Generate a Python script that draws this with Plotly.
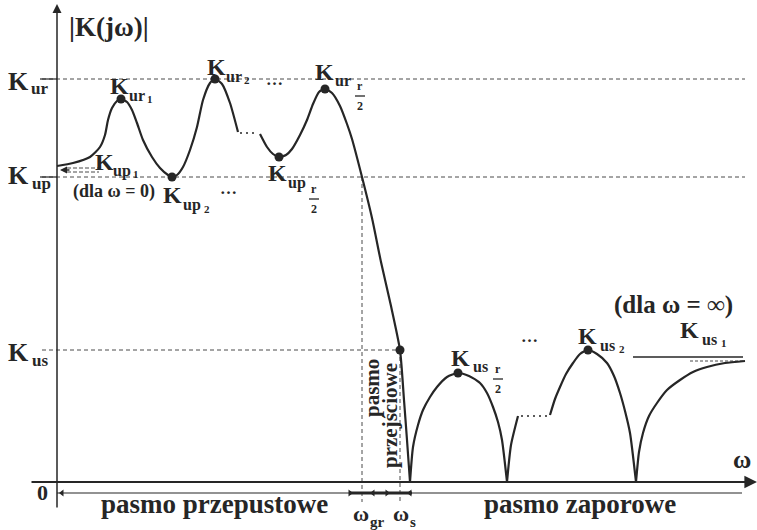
import plotly.graph_objects as go

# ---------------- data (arbitrary units: omega, |K|) ----------------
K_ur = 4.03
K_up = 3.05
K_us = 1.32
K_us1 = 1.25
w_gr = 3.05
w_s = 3.43

# pass band, first part (up to the "..." gap)
pass1_w = [0.00, 0.16, 0.33, 0.43, 0.48, 0.51, 0.55, 0.60, 0.64, 0.70, 0.75, 0.80, 0.86, 0.95, 1.03, 1.11, 1.15,
           1.20, 1.26, 1.33, 1.40, 1.46, 1.53, 1.58, 1.65, 1.73, 1.81]
pass1_k = [3.16, 3.19, 3.25, 3.35, 3.47, 3.62, 3.74, 3.81, 3.83, 3.80, 3.72, 3.59, 3.42, 3.25, 3.14, 3.07, 3.05,
           3.07, 3.15, 3.32, 3.55, 3.82, 3.99, 4.03, 3.98, 3.79, 3.50]
# pass band, second part + transition band
pass2_w = [2.03, 2.10, 2.16, 2.22, 2.29, 2.35, 2.43, 2.50, 2.56, 2.62, 2.68, 2.75, 2.83, 2.90, 2.95, 3.05, 3.15,
           3.24, 3.34, 3.43, 3.47, 3.50, 3.53]
pass2_k = [3.48, 3.35, 3.28, 3.25, 3.27, 3.33, 3.47, 3.62, 3.78, 3.90, 3.93, 3.89, 3.76, 3.58, 3.43, 3.05, 2.64,
           2.20, 1.76, 1.32, 0.82, 0.42, 0.00]
# stop band lobes
lobe1_w = [3.53, 3.56, 3.61, 3.66, 3.73, 3.80, 3.90, 4.01, 4.12, 4.23, 4.30, 4.36, 4.41, 4.45, 4.50]
lobe1_k = [0.00, 0.35, 0.57, 0.72, 0.85, 0.95, 1.05, 1.09, 1.06, 0.99, 0.89, 0.75, 0.60, 0.42, 0.00]
rise_w = [4.50, 4.54, 4.61]
rise_k = [0.00, 0.37, 0.66]
lobe2_w = [4.93, 4.98, 5.03, 5.09, 5.16, 5.23, 5.31, 5.40, 5.50, 5.57, 5.63, 5.68, 5.73, 5.79]
lobe2_k = [0.67, 0.83, 0.95, 1.08, 1.19, 1.28, 1.32, 1.28, 1.19, 1.06, 0.89, 0.71, 0.49, 0.00]
tail_w = [5.79, 5.82, 5.86, 5.92, 6.00, 6.10, 6.23, 6.36, 6.50, 6.68, 6.88]
tail_k = [0.00, 0.30, 0.49, 0.66, 0.79, 0.92, 1.02, 1.10, 1.15, 1.19, 1.21]

# marked extremum points
pts_w = [0.64, 1.15, 1.58, 2.22, 2.68, 3.43, 4.01, 5.31]
pts_k = [3.83, 3.05, 4.03, 3.25, 3.93, 1.32, 1.09, 1.32]

# gaps drawn as dots
gap1_w = [1.83, 2.01]
gap1_k = [3.49, 3.49]
gap2_w = [4.64, 4.91]
gap2_k = [0.66, 0.66]

# band-marker arrowheads on the dimension line
band_left_w = [0.05, 3.16, 3.53]
band_right_w = [2.93, 3.30]

# ---------------- figure ----------------
W, H = 757, 530
X0, Y0 = 57, 482      # pixel of origin
S = 100.0             # pixels per unit
XR = [-X0 / S, (W - X0) / S]
YR = [-(H - Y0) / S, Y0 / S]

INK = '#262626'
DASH = '#4a4a4a'
FONT = 'Liberation Serif'


def px(x, y):
    return (x - X0) / S, (Y0 - y) / S


fig = go.Figure()


def line(xs, ys, width=2.2, color=INK, dash=None, shape='spline', smooth=1.0):
    fig.add_trace(go.Scatter(
        x=xs, y=ys, mode='lines', hoverinfo='skip', showlegend=False,
        line=dict(color=color, width=width, dash=dash, shape=shape,
                  smoothing=smooth if shape == 'spline' else None)))


# reference dashed lines
line([-0.15, 6.88], [K_ur, K_ur], 1, DASH, '4px,3px', 'linear')
line([-0.15, 6.88], [K_up, K_up], 1, DASH, '4px,3px', 'linear')
line([-0.15, w_s], [K_us, K_us], 1, DASH, '4px,3px', 'linear')
line([w_gr, w_gr], [K_up, -0.20], 1, DASH, '4px,3px', 'linear')
line([w_s, w_s], [K_us, -0.20], 1, DASH, '4px,3px', 'linear')
line([-0.17, 0.0], [K_ur, K_ur], 1.2, INK, None, 'linear')
line([-0.17, 0.0], [K_up, K_up], 1.2, INK, None, 'linear')

# K_us1 asymptote lines
line([5.76, 6.86], [K_us1, K_us1], 1.5, INK, None, 'linear')
line([6.33, 6.86], [1.21, 1.21], 1, DASH, '3px,2px', 'linear')

# K_up1 pointer (double dashed shaft)
line([0.10, 0.42], [3.10, 3.10], 1, DASH, '4px,2px', 'linear')
line([0.10, 0.42], [3.14, 3.14], 1, DASH, '4px,2px', 'linear')

# characteristic
line(pass1_w, pass1_k, smooth=0.6)
line(pass2_w, pass2_k, smooth=0.6)
line(lobe1_w, lobe1_k, smooth=0.6)
line(rise_w, rise_k, smooth=0.6)
line(lobe2_w, lobe2_k, smooth=0.6)
line(tail_w, tail_k, smooth=0.6)
line(gap1_w, gap1_k, 1.6, INK, '2px,4px', 'linear')
line(gap2_w, gap2_k, 1.6, INK, '2px,4px', 'linear')

# marker dots
fig.add_trace(go.Scatter(x=pts_w, y=pts_k, mode='markers', hoverinfo='skip', showlegend=False,
                         marker=dict(size=9, color=INK)))

# band dimension line
line([0.0, 6.85], [-0.11, -0.11], 1.2, INK, None, 'linear')
line([2.93, 3.55], [-0.11, -0.11], 3, INK, None, 'linear')
fig.add_trace(go.Scatter(x=band_left_w, y=[-0.11] * len(band_left_w), mode='markers', hoverinfo='skip',
                         showlegend=False, marker=dict(symbol='triangle-left', size=6, color=INK)))
fig.add_trace(go.Scatter(x=band_right_w, y=[-0.11] * len(band_right_w), mode='markers', hoverinfo='skip',
                         showlegend=False, marker=dict(symbol='triangle-right', size=6, color=INK)))

annotations = []

# axes as arrows
annotations.append(dict(x=7.0, y=0.0, ax=-0.27, ay=0.0, xref='x', yref='y', axref='x', ayref='y',
                        showarrow=True, arrowhead=2, arrowsize=1.4, arrowwidth=1.8, arrowcolor=INK, text=''))
annotations.append(dict(x=0.0, y=4.78, ax=0.0, ay=-0.27, xref='x', yref='y', axref='x', ayref='y',
                        showarrow=True, arrowhead=2, arrowsize=1.2, arrowwidth=1.5, arrowcolor=INK, text=''))
# K_up1 arrow head (dla omega = 0)
annotations.append(dict(x=0.03, y=3.12, ax=0.14, ay=3.12, xref='x', yref='y', axref='x', ayref='y',
                        showarrow=True, arrowhead=2, arrowsize=1.0, arrowwidth=1.4, arrowcolor=INK, text=''))


def lab(x, y, text, size=22, xanchor='center', angle=0):
    dx, dy = px(x, y)
    annotations.append(dict(x=dx, y=dy, xref='x', yref='y', text=text, showarrow=False,
                            xanchor=xanchor, yanchor='middle', textangle=angle,
                            font=dict(family=FONT, size=size, color=INK)))


def frac(x, y_top, y_bot, size=12):
    lab(x, y_top, '<b>r</b>', size)
    lab(x, y_bot, '<b>2</b>', size)
    bx0, by = px(x - 5, (y_top + y_bot) / 2)
    bx1, _ = px(x + 5, 0)
    fig.add_shape(type='line', x0=bx0, x1=bx1, y0=by, y1=by, xref='x', yref='y',
                  line=dict(color=INK, width=1.3))


# axis labels
lab(109, 27, '<b>|K(jω)|</b>', 27)
lab(742, 459, '<b>ω</b>', 25)
lab(42, 492, '<b>0</b>', 22)

# left level labels
lab(18, 81, '<b>K</b>', 26)
lab(39, 88, '<b>ur</b>', 17)
lab(18, 175, '<b>K</b>', 26)
lab(41, 183, '<b>up</b>', 17)
lab(18, 352, '<b>K</b>', 26)
lab(40, 360, '<b>us</b>', 17)

# K_ur1
lab(119, 86, '<b>K</b>', 24)
lab(137, 95, '<b>ur</b>', 16)
lab(150, 99, '<b>1</b>', 11)
# K_ur2
lab(216, 67, '<b>K</b>', 24)
lab(234, 76, '<b>ur</b>', 16)
lab(247, 80, '<b>2</b>', 11)
lab(274, 79, '<b>…</b>', 17)
# K_ur r/2
lab(324, 72, '<b>K</b>', 24)
lab(343, 80, '<b>ur</b>', 16)
frac(360, 86, 106)
# K_up1
lab(104, 162, '<b>K</b>', 24)
lab(122, 171, '<b>up</b>', 16)
lab(136, 174, '<b>1</b>', 11)
lab(114, 191, '<b>(dla ω = 0)</b>', 18)
# K_up2
lab(172, 195, '<b>K</b>', 24)
lab(192, 205, '<b>up</b>', 16)
lab(207, 209, '<b>2</b>', 11)
lab(228, 188, '<b>…</b>', 17)
# K_up r/2
lab(277, 173, '<b>K</b>', 24)
lab(297, 183, '<b>up</b>', 16)
frac(314, 189, 209)
# K_us r/2
lab(460, 358, '<b>K</b>', 24)
lab(480, 366, '<b>us</b>', 16)
frac(498, 369, 389)
# K_us2
lab(587, 336, '<b>K</b>', 24)
lab(607, 345, '<b>us</b>', 16)
lab(622, 349, '<b>2</b>', 11)
lab(529, 336, '<b>…</b>', 17)
# K_us1
lab(689, 330, '<b>K</b>', 24)
lab(709, 339, '<b>us</b>', 16)
lab(724, 343, '<b>1</b>', 11)
lab(673, 305, '<b>(dla ω = ∞)</b>', 25)

# bands
lab(214, 504, '<b>pasmo przepustowe</b>', 27)
lab(580, 504, '<b>pasmo zaporowe</b>', 27)
lab(372, 388, '<b>pasmo</b>', 21, angle=-90)
lab(390, 416, '<b>przejściowe</b>', 21, angle=-90)
lab(361, 513, '<b>ω</b>', 22)
lab(377, 522, '<b>gr</b>', 15)
lab(401, 513, '<b>ω</b>', 22)
lab(413, 522, '<b>s</b>', 15)

fig.update_layout(
    width=W, height=H,
    margin=dict(l=0, r=0, t=0, b=0),
    paper_bgcolor='white', plot_bgcolor='white',
    xaxis=dict(range=XR, visible=False, fixedrange=True),
    yaxis=dict(range=YR, visible=False, fixedrange=True),
    annotations=annotations,
    showlegend=False,
)

fig.write_html('out.html', config={'displayModeBar': False})
